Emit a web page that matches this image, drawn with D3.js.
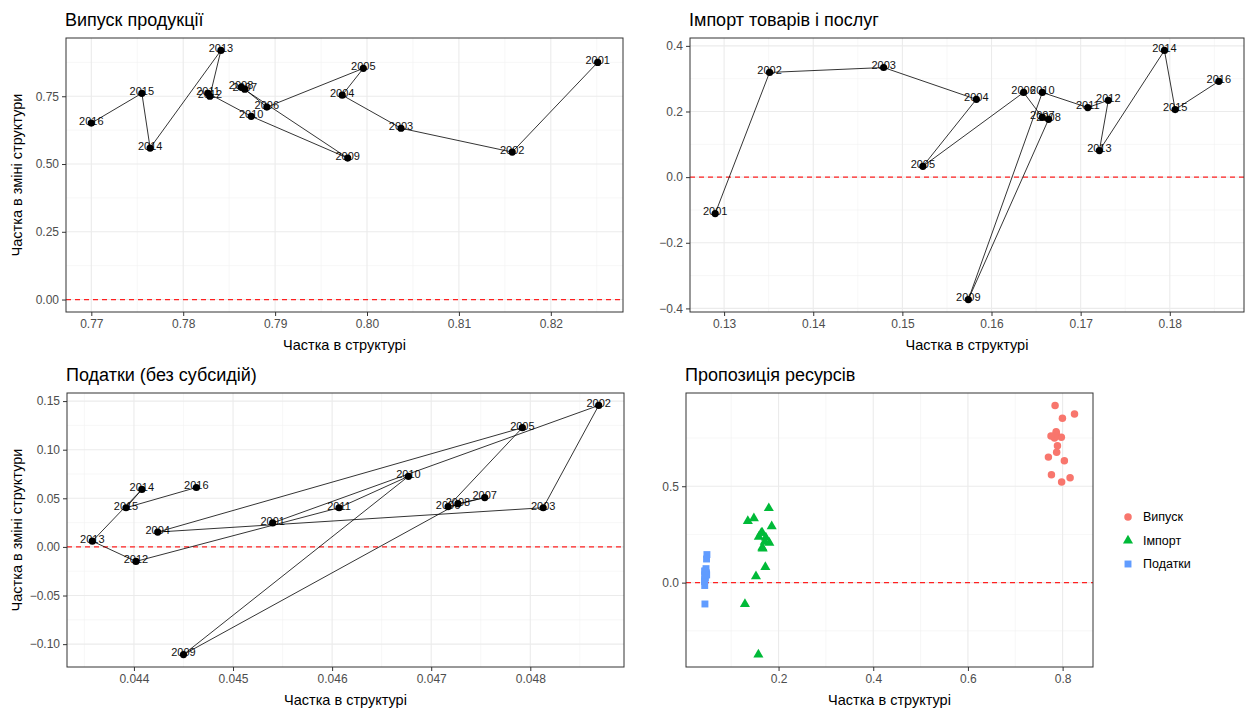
<!DOCTYPE html>
<html><head><meta charset="utf-8">
<script src="https://cdn.jsdelivr.net/npm/d3@7"></script>
<style>body{margin:0;background:#fff}svg text{font-family:"Liberation Sans",Arial,sans-serif}</style>
</head><body><svg id="c" width="1256" height="711"></svg>
<script>
// ---- data ----
const years = [2001,2002,2003,2004,2005,2006,2007,2008,2009,2010,2011,2012,2013,2014,2015,2016];
// Випуск продукції
const outShare  = [0.8251,0.8158,0.8037,0.7973,0.7996,0.7891,0.7867,0.7863,0.7979,0.7874,0.7827,0.7829,0.7841,0.7764,0.7755,0.7700];
const outChange = [0.875,0.544,0.632,0.754,0.853,0.710,0.776,0.783,0.522,0.676,0.761,0.750,0.919,0.559,0.761,0.651];
// Імпорт товарів і послуг
const impShare  = [0.1290,0.1351,0.1479,0.1583,0.1523,0.1636,0.1657,0.1664,0.1574,0.1657,0.1708,0.1731,0.1721,0.1794,0.1806,0.1855];
const impChange = [-0.111,0.319,0.334,0.237,0.033,0.258,0.182,0.176,-0.373,0.258,0.212,0.234,0.081,0.386,0.206,0.292];
// Податки (без субсидій)
const taxShare  = [0.04540,0.04869,0.04813,0.04424,0.04792,0.04717,0.04754,0.04727,0.04450,0.04677,0.04607,0.04402,0.04358,0.04408,0.04392,0.04463];
const taxChange = [0.0247,0.1455,0.0403,0.0153,0.1226,0.0414,0.0507,0.0445,-0.1107,0.0726,0.0403,-0.0149,0.0059,0.0591,0.0403,0.0611];

const titles = ["Випуск продукції","Імпорт товарів і послуг","Податки (без субсидій)","Пропозиція ресурсів"];
const seriesNames = ["Випуск","Імпорт","Податки"];
const seriesColors = ["#F8766D","#00BA38","#619CFF"];
const xTitle = "Частка в структурі";
const yTitle = "Частка в зміні структури";

const xTicks1 = [0.77,0.78,0.79,0.80,0.81,0.82];
const yTicks1 = [0,0.25,0.5,0.75];
const xTicks2 = [0.13,0.14,0.15,0.16,0.17,0.18];
const yTicks2 = [-0.4,-0.2,0,0.2,0.4];
const xTicks3 = [0.044,0.045,0.046,0.047,0.048];
const yTicks3 = [-0.10,-0.05,0,0.05,0.10,0.15];
const xTicks4 = [0.2,0.4,0.6,0.8];
const yTicks4 = [0,0.5];

// ---- drawing ----
const svg = d3.select("#c");
svg.append("rect").attr("width",1256).attr("height",711).attr("fill","#fff");

function expand(vals){
  const e = d3.extent(vals); const p = (e[1]-e[0])*0.05; return [e[0]-p, e[1]+p];
}
function minors(maj, dom){
  const s = maj[1]-maj[0]; const out=[];
  for(let i=-1;i<maj.length;i++){ const v=(i<0?maj[0]-s/2:maj[i]+s/2); if(v>dom[0]&&v<dom[1]) out.push(v);}
  return out;
}

function panel(cfg){
  const {L,R,T,B,xs,ys,xt,yt,xf,yf,title,showY} = cfg;
  const xDom = expand(xs), yDom = expand(ys.concat([0]));
  const x = d3.scaleLinear().domain(xDom).range([L,R]);
  const y = d3.scaleLinear().domain(yDom).range([B,T]);
  const g = svg.append("g");
  // grid
  const gm = g.append("g");
  minors(xt,xDom).forEach(v=>gm.append("line").attr("x1",x(v)).attr("x2",x(v)).attr("y1",T).attr("y2",B).attr("stroke","#F2F2F2").attr("stroke-width",0.6));
  minors(yt,yDom).forEach(v=>gm.append("line").attr("y1",y(v)).attr("y2",y(v)).attr("x1",L).attr("x2",R).attr("stroke","#F2F2F2").attr("stroke-width",0.6));
  xt.forEach(v=>gm.append("line").attr("x1",x(v)).attr("x2",x(v)).attr("y1",T).attr("y2",B).attr("stroke","#EBEBEB").attr("stroke-width",1.1));
  yt.forEach(v=>gm.append("line").attr("y1",y(v)).attr("y2",y(v)).attr("x1",L).attr("x2",R).attr("stroke","#EBEBEB").attr("stroke-width",1.1));
  // axes
  const ax = g.append("g").attr("transform",`translate(0,${B})`).call(d3.axisBottom(x).tickValues(xt).tickFormat(xf).tickSize(4).tickPadding(3));
  const ay = g.append("g").attr("transform",`translate(${L},0)`).call(d3.axisLeft(y).tickValues(yt).tickFormat(yf).tickSize(4).tickPadding(3));
  [ax,ay].forEach(a=>{a.select(".domain").remove(); a.selectAll("line").attr("stroke","#333"); a.selectAll("text").attr("fill","#4D4D4D").attr("font-size",12);});
  // zero line
  g.append("line").attr("x1",L).attr("x2",R).attr("y1",y(0)).attr("y2",y(0)).attr("stroke","#FF2020").attr("stroke-width",1.3).attr("stroke-dasharray","5,4");
  // titles
  svg.append("text").attr("x",L-1).attr("y",T-12).attr("font-size",18).attr("fill","#000").text(title);
  svg.append("text").attr("x",(L+R)/2).attr("y",B+38).attr("text-anchor","middle").attr("font-size",14.5).attr("fill","#000").text(xTitle);
  if(showY) svg.append("text").attr("transform",`translate(22,${(T+B)/2}) rotate(-90)`).attr("text-anchor","middle").attr("font-size",14.5).attr("fill","#000").text(yTitle);
  return {g,x,y,L,R,T,B};
}

function pathPanel(cfg, xs, ys){
  const p = panel(Object.assign({xs,ys},cfg));
  const pts = years.map((yr,i)=>({yr,x:xs[i],y:ys[i]}));
  p.g.append("g").selectAll("text").data(pts).join("text")
    .attr("x",d=>p.x(d.x)).attr("y",d=>p.y(d.y)-2).attr("dy","0.35em")
    .attr("text-anchor","middle").attr("font-size",11).attr("fill","#111").text(d=>d.yr);
  p.g.append("path").datum(pts).attr("d",d3.line().x(d=>p.x(d.x)).y(d=>p.y(d.y)))
    .attr("fill","none").attr("stroke","#000").attr("stroke-width",0.8);
  p.g.append("g").selectAll("circle").data(pts).join("circle")
    .attr("cx",d=>p.x(d.x)).attr("cy",d=>p.y(d.y)).attr("r",3.6).attr("fill","#000");
  p.g.append("rect").attr("x",p.L).attr("y",p.T).attr("width",p.R-p.L).attr("height",p.B-p.T).attr("fill","none").attr("stroke","#333").attr("stroke-width",1);
}

const f2 = d3.format(".2f"), f1 = d3.format(".1f"), f3 = d3.format(".3f");
pathPanel({L:66,R:623,T:38,B:312,xt:xTicks1,yt:yTicks1,xf:f2,yf:f2,title:titles[0],showY:true}, outShare, outChange);
pathPanel({L:690,R:1244,T:38,B:312,xt:xTicks2,yt:yTicks2,xf:f2,yf:f1,title:titles[1],showY:false}, impShare, impChange);
pathPanel({L:67,R:624,T:393,B:667,xt:xTicks3,yt:yTicks3,xf:f3,yf:f2,title:titles[2],showY:true}, taxShare, taxChange);

// scatter panel
const allX = outShare.concat(impShare, taxShare), allY = outChange.concat(impChange, taxChange);
const p4 = panel({L:686,R:1093,T:393,B:667,xs:allX,ys:allY,xt:xTicks4,yt:yTicks4,xf:f1,yf:f1,title:titles[3],showY:false});
const series = [[outShare,outChange],[impShare,impChange],[taxShare,taxChange]];
const shapes = [d3.symbolCircle,d3.symbolTriangle,d3.symbolSquare];
const sizes = [44,44,48];
series.forEach((s,k)=>{
  p4.g.append("g").selectAll("path").data(s[0].map((v,i)=>[v,s[1][i]])).join("path")
    .attr("transform",d=>`translate(${p4.x(d[0])},${p4.y(d[1])})`)
    .attr("d",d3.symbol().type(shapes[k]).size(sizes[k])).attr("fill",seriesColors[k]);
});
p4.g.append("rect").attr("x",p4.L).attr("y",p4.T).attr("width",p4.R-p4.L).attr("height",p4.B-p4.T).attr("fill","none").attr("stroke","#333").attr("stroke-width",1);
// legend
const lg = svg.append("g");
seriesNames.forEach((n,k)=>{
  const yy = 517 + k*23.5;
  lg.append("path").attr("transform",`translate(1128,${yy})`).attr("d",d3.symbol().type(shapes[k]).size(sizes[k])).attr("fill",seriesColors[k]);
  lg.append("text").attr("x",1143).attr("y",yy).attr("dy","0.35em").attr("font-size",12.5).attr("fill","#000").text(n);
});
</script></body></html>
